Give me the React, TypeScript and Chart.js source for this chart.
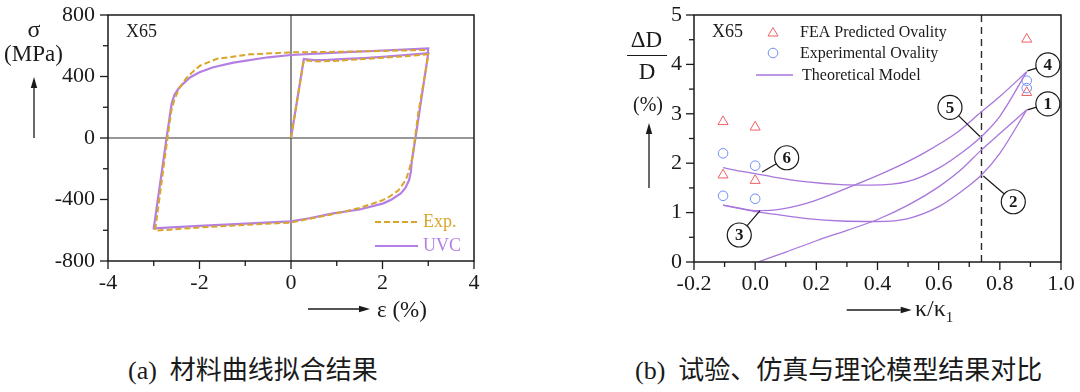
import { useEffect, useRef } from 'react';
import { Chart, registerables } from 'chart.js';
Chart.register(...registerables);

const SERIF = "'Liberation Serif', 'Times New Roman', serif";
const CJK = "'Liberation Serif', 'Noto Sans CJK SC', serif";

// ---------- (a) material curve fitting ----------
const uvcStrain = [0, 0.28, 0.35, 0.5, 0.8, 1.2, 1.6, 2.0, 2.5, 3.0,
  2.72, 2.64, 2.62, 2.58, 2.5, 2.4, 2.2, 2.02, 1.5, 0.92, 0.4, 0, -1.0, -2.0, -3.0,
  -2.72, -2.61, -2.55, -2.45, -2.35, -2.2, -2.0, -1.7, -1.26, -0.5, 0, 1.0, 2.0, 3.0, 2.99];
const uvcStress = [0, 514, 512, 507, 508, 514, 520, 528, 540, 552,
  0, -150, -219, -275, -325, -360, -400, -425, -465, -490, -522, -542, -557, -572, -587,
  0, 222, 280, 325, 355, 395, 428, 460, 490, 525, 540, 555, 569, 583, 555];
const expStrain = [0, 0.28, 0.4, 0.6, 1.0, 1.5, 2.0, 2.5, 3.0,
  2.96, 2.78, 2.71, 2.66, 2.58, 2.51, 2.35, 2.15, 2.0, 1.5, 1.0, 0, -1.0, -2.0, -2.97,
  -2.7, -2.62, -2.55, -2.45, -2.3, -2.15, -1.99, -1.62, -0.9, 0, 1.07, 2.0, 3.0];
const expStress = [0, 505, 502, 498, 502, 512, 522, 532, 545,
  464, 160, 0, -122, -210, -273, -340, -382, -405, -455, -490, -550, -565, -582, -603,
  0, 170, 250, 320, 385, 430, 470, 515, 544, 557, 561, 566, 573];
const strainMajor = [-4, -2, 0, 2, 4];
const strainMinor = [-3, -1, 1, 3];
const stressMajor = [-800, -400, 0, 400, 800];
const stressMinor = [-600, -200, 200, 600];

// ---------- (b) ovality ----------
const feaKappa = [-0.105, 0.0, -0.105, 0.0, 0.888, 0.888];
const feaOvality = [2.84, 2.73, 1.76, 1.65, 4.51, 3.43];
const expKappa = [-0.105, 0.0, -0.105, 0.0, 0.888, 0.888];
const expOvality = [2.20, 1.95, 1.34, 1.28, 3.67, 3.52];

const curve1X = [-0.105, -0.05, 0.0, 0.06, 0.17, 0.28, 0.38, 0.5, 0.6, 0.7, 0.74, 0.8, 0.888];
const curve1Y = [1.91, 1.84, 1.79, 1.72, 1.62, 1.565, 1.555, 1.63, 1.90, 2.33, 2.54, 2.95, 3.85];
const curve2X = [-0.105, -0.05, 0.0, 0.06, 0.17, 0.31, 0.44, 0.55, 0.66, 0.74, 0.8, 0.888];
const curve2Y = [1.15, 1.09, 1.04, 1.05, 1.19, 1.52, 1.86, 2.2, 2.62, 3.04, 3.35, 3.85];
const curve3X = [-0.105, -0.05, 0.0, 0.06, 0.17, 0.28, 0.4, 0.5, 0.6, 0.7, 0.74, 0.8, 0.888];
const curve3Y = [1.15, 1.08, 1.02, 0.97, 0.88, 0.83, 0.82, 0.88, 1.12, 1.55, 1.76, 2.2, 3.08];
const curve4X = [0.01, 0.1, 0.2, 0.3, 0.4, 0.5, 0.6, 0.67, 0.74, 0.8, 0.888];
const curve4Y = [0.0, 0.2, 0.43, 0.64, 0.86, 1.15, 1.52, 1.85, 2.27, 2.6, 3.08];
const kappaLimit = 0.74;

const circleLabels = ['1', '2', '3', '4', '5', '6'];
const circleX = [0.957, 0.844, -0.052, 0.957, 0.637, 0.103];
const circleY = [3.20, 1.22, 0.547, 3.99, 3.13, 2.11];
const anchorX = [0.890, 0.746, 0.016, 0.890, 0.735, 0.023];
const anchorY = [3.08, 1.74, 1.04, 3.87, 2.54, 1.82];

const kappaMajor = [-0.2, 0.0, 0.2, 0.4, 0.6, 0.8, 1.0];
const kappaMinor = [-0.1, 0.1, 0.3, 0.5, 0.7, 0.9];
const ovalMajor = [0, 1, 2, 3, 4, 5];
const ovalMinor = [0.5, 1.5, 2.5, 3.5, 4.5];

const PURPLE_A = '#b47fe4';
const GOLD = '#d9a52a';
const PURPLE_B = '#a876dc';
const RED = '#ef5f66';
const BLUE = '#6f8ff0';
const INK = '#1a1a1a';

const pts = (xs: number[], ys: number[]) => xs.map((x, i) => ({ x, y: ys[i] }));

function seg(ctx: CanvasRenderingContext2D, x1: number, y1: number, x2: number, y2: number) {
  ctx.beginPath(); ctx.moveTo(x1, y1); ctx.lineTo(x2, y2); ctx.stroke();
}

function arrow(ctx: CanvasRenderingContext2D, x1: number, y1: number, x2: number, y2: number) {
  ctx.save();
  ctx.strokeStyle = INK; ctx.fillStyle = INK; ctx.lineWidth = 1.3;
  const ang = Math.atan2(y2 - y1, x2 - x1);
  const hl = 11, hw = 3.2;
  const bx = x2 - hl * Math.cos(ang), by = y2 - hl * Math.sin(ang);
  seg(ctx, x1, y1, bx, by);
  ctx.beginPath();
  ctx.moveTo(x2, y2);
  ctx.lineTo(bx + hw * Math.sin(ang), by - hw * Math.cos(ang));
  ctx.lineTo(bx - hw * Math.sin(ang), by + hw * Math.cos(ang));
  ctx.closePath(); ctx.fill();
  ctx.restore();
}

function frameAndTicks(chart: any, xMaj: number[], xMin: number[], yMaj: number[], yMin: number[]) {
  const { ctx, chartArea: a, scales } = chart;
  const sx = scales.x, sy = scales.y;
  ctx.save();
  ctx.strokeStyle = INK; ctx.lineWidth = 1.5;
  ctx.strokeRect(a.left, a.top, a.right - a.left, a.bottom - a.top);
  ctx.lineWidth = 1.3;
  xMaj.forEach((v) => { const p = sx.getPixelForValue(v); seg(ctx, p, a.bottom, p, a.bottom + 8); });
  xMin.forEach((v) => { const p = sx.getPixelForValue(v); seg(ctx, p, a.bottom, p, a.bottom + 5); });
  yMaj.forEach((v) => { const p = sy.getPixelForValue(v); seg(ctx, a.left, p, a.left - 8, p); });
  yMin.forEach((v) => { const p = sy.getPixelForValue(v); seg(ctx, a.left, p, a.left - 5, p); });
  ctx.restore();
}

const leftDecor = {
  id: 'leftDecor',
  beforeDatasetsDraw(chart: any) {
    const { ctx, chartArea: a, scales } = chart;
    const x0 = scales.x.getPixelForValue(0), y0 = scales.y.getPixelForValue(0);
    ctx.save(); ctx.strokeStyle = '#333'; ctx.lineWidth = 1.1;
    seg(ctx, a.left, y0, a.right, y0);
    seg(ctx, x0, a.top, x0, a.bottom);
    ctx.restore();
  },
  afterDatasetsDraw(chart: any) {
    const { ctx, chartArea: a } = chart;
    frameAndTicks(chart, strainMajor, strainMinor, stressMajor, stressMinor);
    ctx.save();
    ctx.font = `18px ${SERIF}`; ctx.textBaseline = 'middle'; ctx.fillStyle = INK;
    ctx.fillText('X65', a.left + 18, a.top + 17);
    // legend
    ctx.lineWidth = 2;
    ctx.strokeStyle = GOLD; ctx.setLineDash([6, 3]);
    seg(ctx, a.right - 99, a.bottom - 39, a.right - 56, a.bottom - 39);
    ctx.setLineDash([]);
    ctx.strokeStyle = PURPLE_A;
    seg(ctx, a.right - 99, a.bottom - 15, a.right - 56, a.bottom - 15);
    ctx.fillStyle = GOLD; ctx.fillText('Exp.', a.right - 51, a.bottom - 39);
    ctx.fillStyle = PURPLE_A; ctx.fillText('UVC', a.right - 51, a.bottom - 15);
    ctx.restore();
  },
  afterDraw(chart: any) {
    const { ctx } = chart;
    arrow(ctx, 34, 138, 34, 77);
    arrow(ctx, 308, 309, 370, 309);
  },
};

const rightDecor = {
  id: 'rightDecor',
  beforeDatasetsDraw(chart: any) {
    const { ctx, chartArea: a, scales } = chart;
    const xv = scales.x.getPixelForValue(kappaLimit);
    ctx.save(); ctx.strokeStyle = '#2a2a2a'; ctx.lineWidth = 1.4; ctx.setLineDash([7, 5]);
    seg(ctx, xv, a.top, xv, a.bottom);
    ctx.restore();
  },
  afterDatasetsDraw(chart: any) {
    const { ctx, chartArea: a, scales } = chart;
    const sx = scales.x, sy = scales.y;
    frameAndTicks(chart, kappaMajor, kappaMinor, ovalMajor, ovalMinor);
    ctx.save();
    // numbered circles
    circleLabels.forEach((lab, i) => {
      const cx = sx.getPixelForValue(circleX[i]), cy = sy.getPixelForValue(circleY[i]);
      const ax = sx.getPixelForValue(anchorX[i]), ay = sy.getPixelForValue(anchorY[i]);
      ctx.strokeStyle = INK; ctx.lineWidth = 1.2;
      seg(ctx, ax, ay, cx, cy);
      ctx.beginPath(); ctx.arc(cx, cy, 12, 0, Math.PI * 2);
      ctx.fillStyle = '#fff'; ctx.fill(); ctx.stroke();
      ctx.fillStyle = INK; ctx.font = `bold 17px ${SERIF}`;
      ctx.textAlign = 'center'; ctx.textBaseline = 'middle';
      ctx.fillText(lab, cx, cy + 1);
    });
    // legend
    ctx.textAlign = 'left'; ctx.textBaseline = 'middle';
    ctx.font = `18px ${SERIF}`; ctx.fillStyle = INK;
    ctx.fillText('X65', a.left + 18, a.top + 17);
    ctx.font = `16px ${SERIF}`;
    const mx = a.left + 79;
    ctx.strokeStyle = RED; ctx.lineWidth = 1;
    ctx.beginPath();
    ctx.moveTo(mx, a.top + 12.5); ctx.lineTo(mx + 5, a.top + 21); ctx.lineTo(mx - 5, a.top + 21); ctx.closePath();
    ctx.stroke();
    ctx.strokeStyle = BLUE;
    ctx.beginPath(); ctx.arc(mx, a.top + 38, 4.8, 0, Math.PI * 2); ctx.stroke();
    ctx.strokeStyle = PURPLE_B; ctx.lineWidth = 1.3;
    seg(ctx, a.left + 62, a.top + 60, a.left + 99, a.top + 60);
    ctx.fillStyle = INK;
    ctx.fillText('FEA Predicted Ovality', a.left + 106, a.top + 18);
    ctx.fillText('Experimental Ovality', a.left + 106, a.top + 39);
    ctx.fillText('Theoretical Model', a.left + 108, a.top + 61);
    ctx.restore();
  },
  afterDraw(chart: any) {
    const { ctx } = chart;
    arrow(ctx, 69, 188, 69, 123);
    arrow(ctx, 266.7, 310, 331.7, 310);
  },
};

function axis(min: number, max: number, ticksArr: number[], fmt: (v: number) => string, pad: number, fit: (s: any) => void) {
  return {
    type: 'linear' as const,
    min, max,
    afterBuildTicks: (s: any) => { s.ticks = ticksArr.map((v) => ({ value: v })); },
    ticks: { font: { family: SERIF, size: 22 }, color: INK, padding: pad, autoSkip: false, maxRotation: 0, callback: (v: any) => fmt(Number(v)) },
    grid: { display: false, drawTicks: false },
    border: { display: false },
    afterFit: fit,
  };
}

function LeftChart() {
  const ref = useRef<HTMLCanvasElement>(null);
  useEffect(() => {
    const chart = new Chart(ref.current!, {
      type: 'scatter',
      data: {
        datasets: [
          { label: 'Exp.', data: pts(expStrain, expStress), showLine: true, borderColor: GOLD, borderWidth: 2, borderDash: [6, 3], pointRadius: 0, tension: 0 },
          { label: 'UVC', data: pts(uvcStrain, uvcStress), showLine: true, borderColor: PURPLE_A, borderWidth: 2.2, pointRadius: 0, tension: 0 },
        ],
      },
      options: {
        responsive: false, animation: false,
        layout: { padding: { top: 15, right: 26, left: 0, bottom: 0 } },
        plugins: { legend: { display: false }, tooltip: { enabled: false } },
        scales: {
          x: axis(-4, 4, strainMajor, (v) => String(v), 9, (s) => { s.height = 69; s.paddingLeft = 0; s.paddingRight = 0; }),
          y: axis(-800, 800, stressMajor, (v) => String(v), 13, (s) => { s.width = 108; s.paddingTop = 0; s.paddingBottom = 0; }),
        },
      },
      plugins: [leftDecor],
    } as any);
    return () => chart.destroy();
  }, []);
  return <canvas ref={ref} width={500} height={330} style={{ position: 'absolute', left: 0, top: 0 }} />;
}

function RightChart() {
  const ref = useRef<HTMLCanvasElement>(null);
  useEffect(() => {
    const curve = (xs: number[], ys: number[]) => ({
      data: pts(xs, ys), showLine: true, borderColor: PURPLE_B, borderWidth: 1.3, pointRadius: 0, cubicInterpolationMode: 'monotone',
    });
    const chart = new Chart(ref.current!, {
      type: 'scatter',
      data: {
        datasets: [
          curve(curve1X, curve1Y),
          curve(curve2X, curve2Y),
          curve(curve3X, curve3Y),
          curve(curve4X, curve4Y),
          { label: 'FEA Predicted Ovality', data: pts(feaKappa, feaOvality), pointStyle: 'triangle', pointRadius: 5.8, borderColor: RED, backgroundColor: 'rgba(0,0,0,0)', borderWidth: 1 },
          { label: 'Experimental Ovality', data: pts(expKappa, expOvality), pointStyle: 'circle', pointRadius: 4.8, borderColor: BLUE, backgroundColor: 'rgba(0,0,0,0)', borderWidth: 1 },
        ],
      },
      options: {
        responsive: false, animation: false,
        layout: { padding: { top: 15, right: 19, left: 0, bottom: 0 } },
        plugins: { legend: { display: false }, tooltip: { enabled: false } },
        scales: {
          x: axis(-0.2, 1.0, kappaMajor, (v) => v.toFixed(1), 9, (s) => { s.height = 68; s.paddingLeft = 0; s.paddingRight = 0; }),
          y: axis(0, 5, ovalMajor, (v) => String(v), 12, (s) => { s.width = 114; s.paddingTop = 0; s.paddingBottom = 0; }),
        },
      },
      plugins: [rightDecor],
    } as any);
    return () => chart.destroy();
  }, []);
  return <canvas ref={ref} width={500} height={330} style={{ position: 'absolute', left: 580, top: 0 }} />;
}

const abs = (left: number, top: number, size: number, extra: any = {}) => ({
  position: 'absolute' as const, left, top, fontSize: size, fontFamily: SERIF, lineHeight: 1,
  whiteSpace: 'nowrap' as const, color: INK, transform: 'translate(-50%, -50%)', ...extra,
});

export default function App() {
  return (
    <div style={{ position: 'absolute', left: 0, top: 0, width: 1080, height: 392, background: '#fff', overflow: 'hidden' }}>
      <LeftChart />
      <RightChart />
      <div style={abs(34, 29, 24)}>σ</div>
      <div style={abs(33.5, 53, 23)}>(MPa)</div>
      <div style={abs(377, 309, 23, { transform: 'translate(0, -50%)' })}>ε (%)</div>
      <div style={abs(646.5, 39, 23)}>ΔD</div>
      <div style={{ position: 'absolute', left: 627, top: 54.5, width: 40, borderTop: `1.3px solid ${INK}` }} />
      <div style={abs(647, 71, 23)}>D</div>
      <div style={abs(648, 103.5, 20)}>(%)</div>
      <div style={abs(915, 310, 24, { transform: 'translate(0, -50%)' })}>κ/κ<sub style={{ fontSize: 15, verticalAlign: '-6px' }}>1</sub></div>
      <div style={{ position: 'absolute', left: 128, top: 356, fontSize: 26, lineHeight: '30px', fontFamily: CJK, whiteSpace: 'pre', color: INK }}>(a)  材料曲线拟合结果</div>
      <div style={{ position: 'absolute', left: 635, top: 356, fontSize: 26, lineHeight: '30px', fontFamily: CJK, whiteSpace: 'pre', color: INK }}>(b)  试验、仿真与理论模型结果对比</div>
    </div>
  );
}
